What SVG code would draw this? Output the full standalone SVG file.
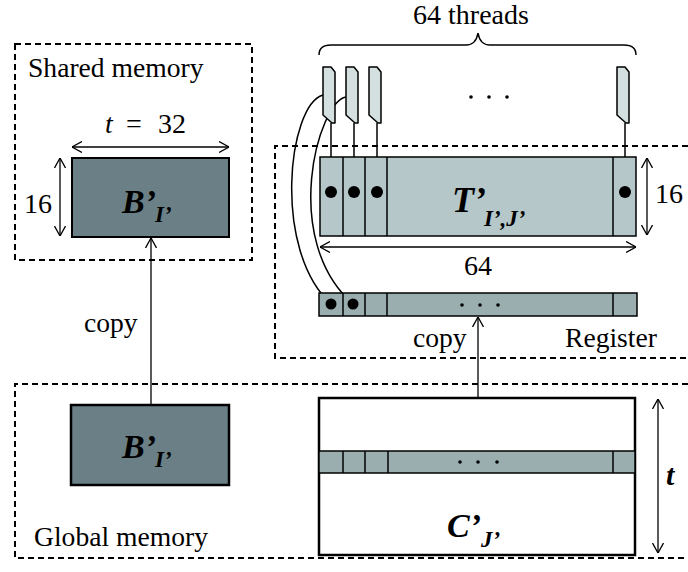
<svg xmlns="http://www.w3.org/2000/svg" width="688" height="572" viewBox="0 0 688 572">
  <style>
    text { font-family: "Times New Roman", Times, "Liberation Serif", "DejaVu Serif", serif; fill: #000; }
    .lbl { font-size: 27.6px; }
    .num { font-size: 28px; }
    .big { font-weight: bold; font-style: italic; }
    .region { fill: none; stroke: #000; stroke-width: 2; stroke-dasharray: 6 4; }
    .blk { fill: #6b8086; stroke: #000; stroke-width: 2.5; }
    .tile { fill: #b5c7c9; stroke: #000; stroke-width: 1.5; }
    .row { fill: #9aaeb0; stroke: #000; stroke-width: 1.5; }
    .cell { stroke: #000; stroke-width: 1.5; }
    .thr { fill: #d4dfdf; stroke: #000; stroke-width: 1.5; stroke-linejoin: round; }
    .wire { fill: none; stroke: #000; stroke-width: 1.5; }
    .dim { fill: none; stroke: #000; stroke-width: 1.3; marker-start: url(#v); marker-end: url(#v); }
    .cp { fill: none; stroke: #000; stroke-width: 1.3; marker-end: url(#v); }
  </style>
  <defs>
    <marker id="v" viewBox="0 0 10 12" refX="10" refY="6" markerWidth="10" markerHeight="12" orient="auto-start-reverse" markerUnits="userSpaceOnUse">
      <path d="M0,0.5 L10,6 L0,11.5" fill="none" stroke="#000" stroke-width="1.3"/>
    </marker>
  </defs>
  <rect width="688" height="572" fill="#fff"/>

  <!-- memory regions -->
  <g id="shared-memory">
    <rect class="region" x="15" y="44" width="237" height="216"/>
    <text class="lbl" x="28" y="77">Shared memory</text>
  </g>
  <g id="register">
    <path class="region" d="M688,146 L275,146 L275,358 L688,358"/>
    <text class="lbl" x="565" y="347">Register</text>
  </g>
  <g id="global-memory">
    <path class="region" d="M688,384 L15,384 L15,558 L688,558"/>
    <text class="lbl" x="34" y="546">Global memory</text>
  </g>

  <!-- connectors -->
  <g id="connectors">
    <line class="cp" x1="151" y1="405" x2="151" y2="238"/>
    <text class="lbl" x="84" y="332">copy</text>
    <line class="cp" x1="478" y1="440" x2="478" y2="317"/>
    <text class="lbl" x="413" y="347">copy</text>
    <!-- thread-to-register wires -->
    <path class="wire" d="M346,97 C318,102 280,240 353,304"/>
    <path class="wire" d="M323,95 C288,105 272,250 331,304"/>
    <line class="wire" x1="331" y1="123" x2="331" y2="192"/>
    <line class="wire" x1="354" y1="123" x2="354" y2="192"/>
    <line class="wire" x1="377" y1="123" x2="377" y2="192"/>
    <line class="wire" x1="625" y1="123" x2="625" y2="192"/>
  </g>

  <!-- threads -->
  <g id="threads">
    <path class="wire" d="M319,55 Q319,45 331,45 L466,45 Q476,45 478,33 Q480,45 490,45 L624,45 Q636,45 636,55"/>
    <text class="num" x="471" y="24" text-anchor="middle">64 threads</text>
    <path class="thr" d="M323,67 L331,67 L335,72 L335,123 L332,123 L323,115 Z"/>
    <path class="thr" d="M346,67 L354,67 L358,72 L358,123 L355,123 L346,115 Z"/>
    <path class="thr" d="M369,67 L377,67 L381,72 L381,123 L378,123 L369,115 Z"/>
    <path class="thr" d="M617,67 L625,67 L629,72 L629,123 L626,123 L617,115 Z"/>
    <circle cx="471" cy="97" r="1.8"/>
    <circle cx="489" cy="97" r="1.8"/>
    <circle cx="507" cy="97" r="1.8"/>
  </g>

  <!-- shared B'I' tile -->
  <g id="b-shared">
    <rect x="72" y="158" width="157" height="79" fill="#6b8086" stroke="#000" stroke-width="2"/>
    <line class="dim" x1="72" y1="147" x2="229" y2="147"/>
    <line class="dim" x1="60" y1="158" x2="60" y2="236"/>
    <text class="num" x="105" y="133" font-style="italic">t</text>
    <text class="num" x="126" y="133">=</text>
    <text class="num" x="158" y="133">32</text>
    <text class="num" x="24" y="213">16</text>
    <text class="big" x="122" y="213" font-size="34">B’</text>
    <text class="big" x="155" y="222" font-size="23">I’</text>
  </g>

  <!-- global B'I' tile -->
  <g id="b-global">
    <rect class="blk" x="71" y="405" width="158" height="80"/>
    <text class="big" x="122" y="458" font-size="34">B’</text>
    <text class="big" x="155" y="467" font-size="23">I’</text>
  </g>

  <!-- register tile T'I',J' -->
  <g id="t-tile">
    <rect class="tile" x="320" y="157" width="316" height="79"/>
    <line class="cell" x1="343" y1="157" x2="343" y2="236"/>
    <line class="cell" x1="365" y1="157" x2="365" y2="236"/>
    <line class="cell" x1="387" y1="157" x2="387" y2="236"/>
    <line class="cell" x1="613" y1="157" x2="613" y2="236"/>
    <circle cx="331" cy="192" r="6"/>
    <circle cx="354" cy="192" r="6"/>
    <circle cx="377" cy="192" r="6"/>
    <circle cx="625" cy="192" r="6"/>
    <text class="big" x="452" y="212" font-size="36">T’</text>
    <text class="big" x="484" y="226" font-size="23">I’,J’</text>
    <line class="dim" x1="320" y1="247" x2="636" y2="247"/>
    <text class="num" x="478" y="275" text-anchor="middle">64</text>
    <line class="dim" x1="647" y1="158" x2="647" y2="235"/>
    <text class="num" x="655" y="203">16</text>
  </g>

  <!-- register row -->
  <g id="reg-row">
    <rect class="row" x="319" y="293" width="318" height="23"/>
    <line class="cell" x1="343" y1="293" x2="343" y2="316"/>
    <line class="cell" x1="365" y1="293" x2="365" y2="316"/>
    <line class="cell" x1="387" y1="293" x2="387" y2="316"/>
    <line class="cell" x1="613" y1="293" x2="613" y2="316"/>
    <circle cx="331" cy="304" r="5.5"/>
    <circle cx="353" cy="304" r="5.5"/>
    <circle cx="462" cy="305" r="1.8"/>
    <circle cx="480" cy="305" r="1.8"/>
    <circle cx="498" cy="305" r="1.8"/>
  </g>

  <!-- global C'J' tile -->
  <g id="c-global">
    <rect x="319" y="398" width="316" height="157" fill="#fff" stroke="#000" stroke-width="2.5"/>
    <rect class="row" x="319" y="451" width="316" height="22"/>
    <line class="cell" x1="343" y1="451" x2="343" y2="473"/>
    <line class="cell" x1="365" y1="451" x2="365" y2="473"/>
    <line class="cell" x1="388" y1="451" x2="388" y2="473"/>
    <line class="cell" x1="613" y1="451" x2="613" y2="473"/>
    <circle cx="460" cy="462" r="1.8"/>
    <circle cx="478" cy="462" r="1.8"/>
    <circle cx="497" cy="462" r="1.8"/>
    <text class="big" x="447" y="537" font-size="34">C’</text>
    <text class="big" x="481" y="547" font-size="23">J’</text>
    <line class="dim" x1="658" y1="399" x2="658" y2="553"/>
    <text class="big" x="666" y="485" font-size="30">t</text>
  </g>
</svg>
